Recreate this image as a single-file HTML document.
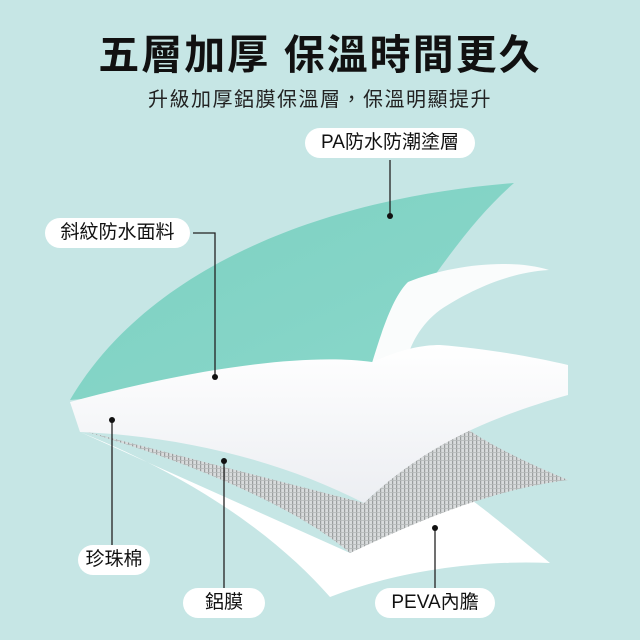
<!DOCTYPE html>
<html><head><meta charset="utf-8"><style>
html,body{margin:0;padding:0}
body{width:640px;height:640px;background:#c6e6e5;position:relative;overflow:hidden;font-family:"Liberation Sans","Noto Sans CJK TC",sans-serif}
.t{position:absolute;left:0;width:640px;text-align:center;color:#111}
.pill{position:absolute;background:#fff;border-radius:15px;height:30px;line-height:30px;text-align:center;font-size:19px;color:#111}
</style></head><body>
<svg width="640" height="640" style="position:absolute;left:0;top:0">
<defs>
<linearGradient id="tg" x1="0" y1="0" x2="1" y2="1"><stop offset="0" stop-color="#7dd0c1"/><stop offset="1" stop-color="#8ad8cb"/></linearGradient>
<pattern id="al" width="4" height="4" patternUnits="userSpaceOnUse"><rect width="4" height="4" fill="#d8dbdc"/><rect width="1.2" height="4" fill="#9a9e9e"/><rect width="4" height="0.8" fill="#b5b9b9"/></pattern>
<linearGradient id="fg" x1="0" y1="0" x2="0" y2="1"><stop offset="0" stop-color="#ffffff"/><stop offset="1" stop-color="#eceef2"/></linearGradient>
</defs>
<path d="M80,432 C200,480 280,540 330,597 C400,570 480,560 550,563 C510,530 480,505 460,492 L350,553 Z" fill="#fff"/>
<path d="M80,430 C200,465 300,510 350,553 C420,520 490,490 568,480 C520,460 480,440 455,420 L364,503 Z" fill="url(#al)"/>
<path d="M70,400 C140,280 300,200 514,183 C460,230 420,300 372,363 L300,380 Z" fill="url(#tg)"/>
<path d="M372,363 C385,320 395,295 408,282 C450,265 510,258 549,270 C510,272 470,290 440,310 C420,325 410,345 405,365 Z" fill="#fafcfc"/>
<path d="M70,402 C180,372 300,352 372,362 C400,350 420,345 440,345 C480,348 530,356 568,365 L568,395 C480,420 420,450 364,503 C280,460 180,436 80,432 Z" fill="url(#fg)"/>
<g stroke="#222" stroke-width="1.3" fill="none">
<line x1="390" y1="160" x2="390" y2="216"/>
<polyline points="193,233 215,233 215,377"/>
<line x1="112" y1="420" x2="112" y2="546"/>
<line x1="224" y1="461" x2="224" y2="590"/>
<line x1="435" y1="528" x2="435" y2="590"/>
</g>
<g fill="#111"><circle cx="390" cy="216" r="3"/><circle cx="215" cy="377" r="3"/><circle cx="112" cy="420" r="3"/><circle cx="224" cy="461" r="3"/><circle cx="435" cy="528" r="3"/></g>
</svg>
<div class="t" style="top:21px;font-size:41px;font-weight:bold;letter-spacing:2px">五層加厚&nbsp;保溫時間更久</div>
<div class="t" style="top:83px;font-size:20px;letter-spacing:1.5px;color:#222">升級加厚鋁膜保溫層，保溫明顯提升</div>
<div class="pill" style="left:305px;top:128px;width:170px">PA防水防潮塗層</div>
<div class="pill" style="left:45px;top:218px;width:145px">斜紋防水面料</div>
<div class="pill" style="left:78px;top:545px;width:72px">珍珠棉</div>
<div class="pill" style="left:183px;top:588px;width:82px">鋁膜</div>
<div class="pill" style="left:375px;top:588px;width:120px">PEVA內膽</div>
</body></html>
